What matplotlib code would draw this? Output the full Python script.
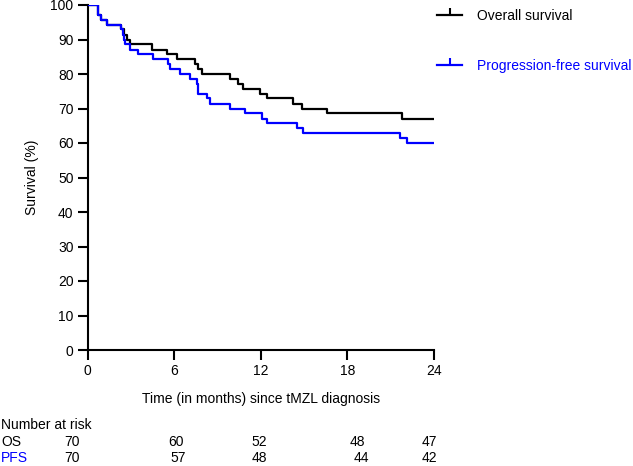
import matplotlib
matplotlib.use("Agg")
import matplotlib.pyplot as plt
import matplotlib.transforms as mtransforms
from matplotlib.lines import Line2D

plt.rcParams['font.family'] = ['Liberation Sans', 'DejaVu Sans']
plt.rcParams['font.size'] = 10

# Kaplan-Meier steps (months, % surviving)
os_times = [0, 0.75, 0.95, 1.35, 2.30, 2.50, 2.75, 2.95, 4.44, 5.48, 6.17, 7.44, 7.67,
            7.90, 9.87, 10.44, 10.79, 11.95, 12.40, 14.25, 14.83, 16.56, 21.76, 24]
os_surv = [100, 97.1, 95.7, 94.3, 92.9, 91.4, 90.0, 88.6, 87.1, 85.7, 84.3, 82.9, 81.4,
           80.0, 78.6, 77.1, 75.7, 74.3, 72.9, 71.4, 70.0, 68.6, 67.1, 67.1]

pfs_times = [0, 0.75, 0.95, 1.35, 2.30, 2.43, 2.50, 2.60, 2.94, 3.52, 4.56, 5.60, 5.70,
             6.41, 7.10, 7.60, 7.67, 8.25, 8.50, 9.90, 10.90, 12.06, 12.41, 14.49,
             14.95, 21.64, 22.10, 24]
pfs_surv = [100, 97.1, 95.7, 94.3, 92.9, 91.4, 90.0, 88.6, 87.1, 85.7, 84.3, 82.9, 81.4,
            80.0, 78.6, 77.1, 74.3, 72.9, 71.4, 70.0, 68.6, 67.1, 65.7, 64.3,
            62.9, 61.4, 60.0, 60.0]

# number at risk (x = month under which the count is printed)
os_risk_x = [-1.1, 6.1, 11.9, 18.7, 23.7]
os_risk = [70, 60, 52, 48, 47]
pfs_risk_x = [-1.1, 6.3, 11.9, 19.0, 23.7]
pfs_risk = [70, 57, 48, 44, 42]

blue = '#0000ff'

fig = plt.figure(figsize=(6.33, 4.66), dpi=100)
ax = fig.add_axes([87.5 / 633, 116 / 466, 346.5 / 633, 345 / 466])

ax.step(os_times, os_surv, where='post', color='black', lw=1.6, zorder=3)
ax.step(pfs_times, pfs_surv, where='post', color=blue, lw=1.6, zorder=4)

ax.set_xlim(0, 24)
ax.set_ylim(0, 100)
ax.set_xticks([0, 6, 12, 18, 24])
ax.set_yticks(range(0, 101, 10))
for s in ['top', 'right']:
    ax.spines[s].set_visible(False)
for s in ['left', 'bottom']:
    ax.spines[s].set_linewidth(1.5)
ax.tick_params(length=7, width=1.5, pad=3)
ax.set_xlabel('Time (in months) since tMZL diagnosis', labelpad=10)
ax.set_ylabel('Survival (%)', labelpad=8)

handles = [Line2D([], [], color='black', lw=1.6, marker=2, markersize=5, markeredgewidth=1.5),
           Line2D([], [], color=blue, lw=1.6, marker=2, markersize=5, markeredgewidth=1.5)]
fig.legend(handles, ['Overall survival', 'Progression-free survival'],
           loc='upper left', bbox_to_anchor=(437 / 633, 1 - 9 / 466),
           frameon=False, borderpad=0, borderaxespad=0, labelspacing=2.6,
           handlelength=1.8, handletextpad=1.1, labelcolor='linecolor')

# number at risk table
trans = mtransforms.blended_transform_factory(ax.transData, fig.transFigure)
fig.text(0.002, 1 - 425 / 466, 'Number at risk', va='center')
fig.text(0.002, 1 - 442 / 466, 'OS', va='center')
fig.text(0.002, 1 - 458 / 466, 'PFS', va='center', color=blue)
for t, a in zip(os_risk_x, os_risk):
    ax.text(t, 1 - 442 / 466, str(a), transform=trans, ha='center', va='center')
for t, b in zip(pfs_risk_x, pfs_risk):
    ax.text(t, 1 - 458 / 466, str(b), transform=trans, ha='center', va='center')

fig.savefig('out.png', dpi=100)
